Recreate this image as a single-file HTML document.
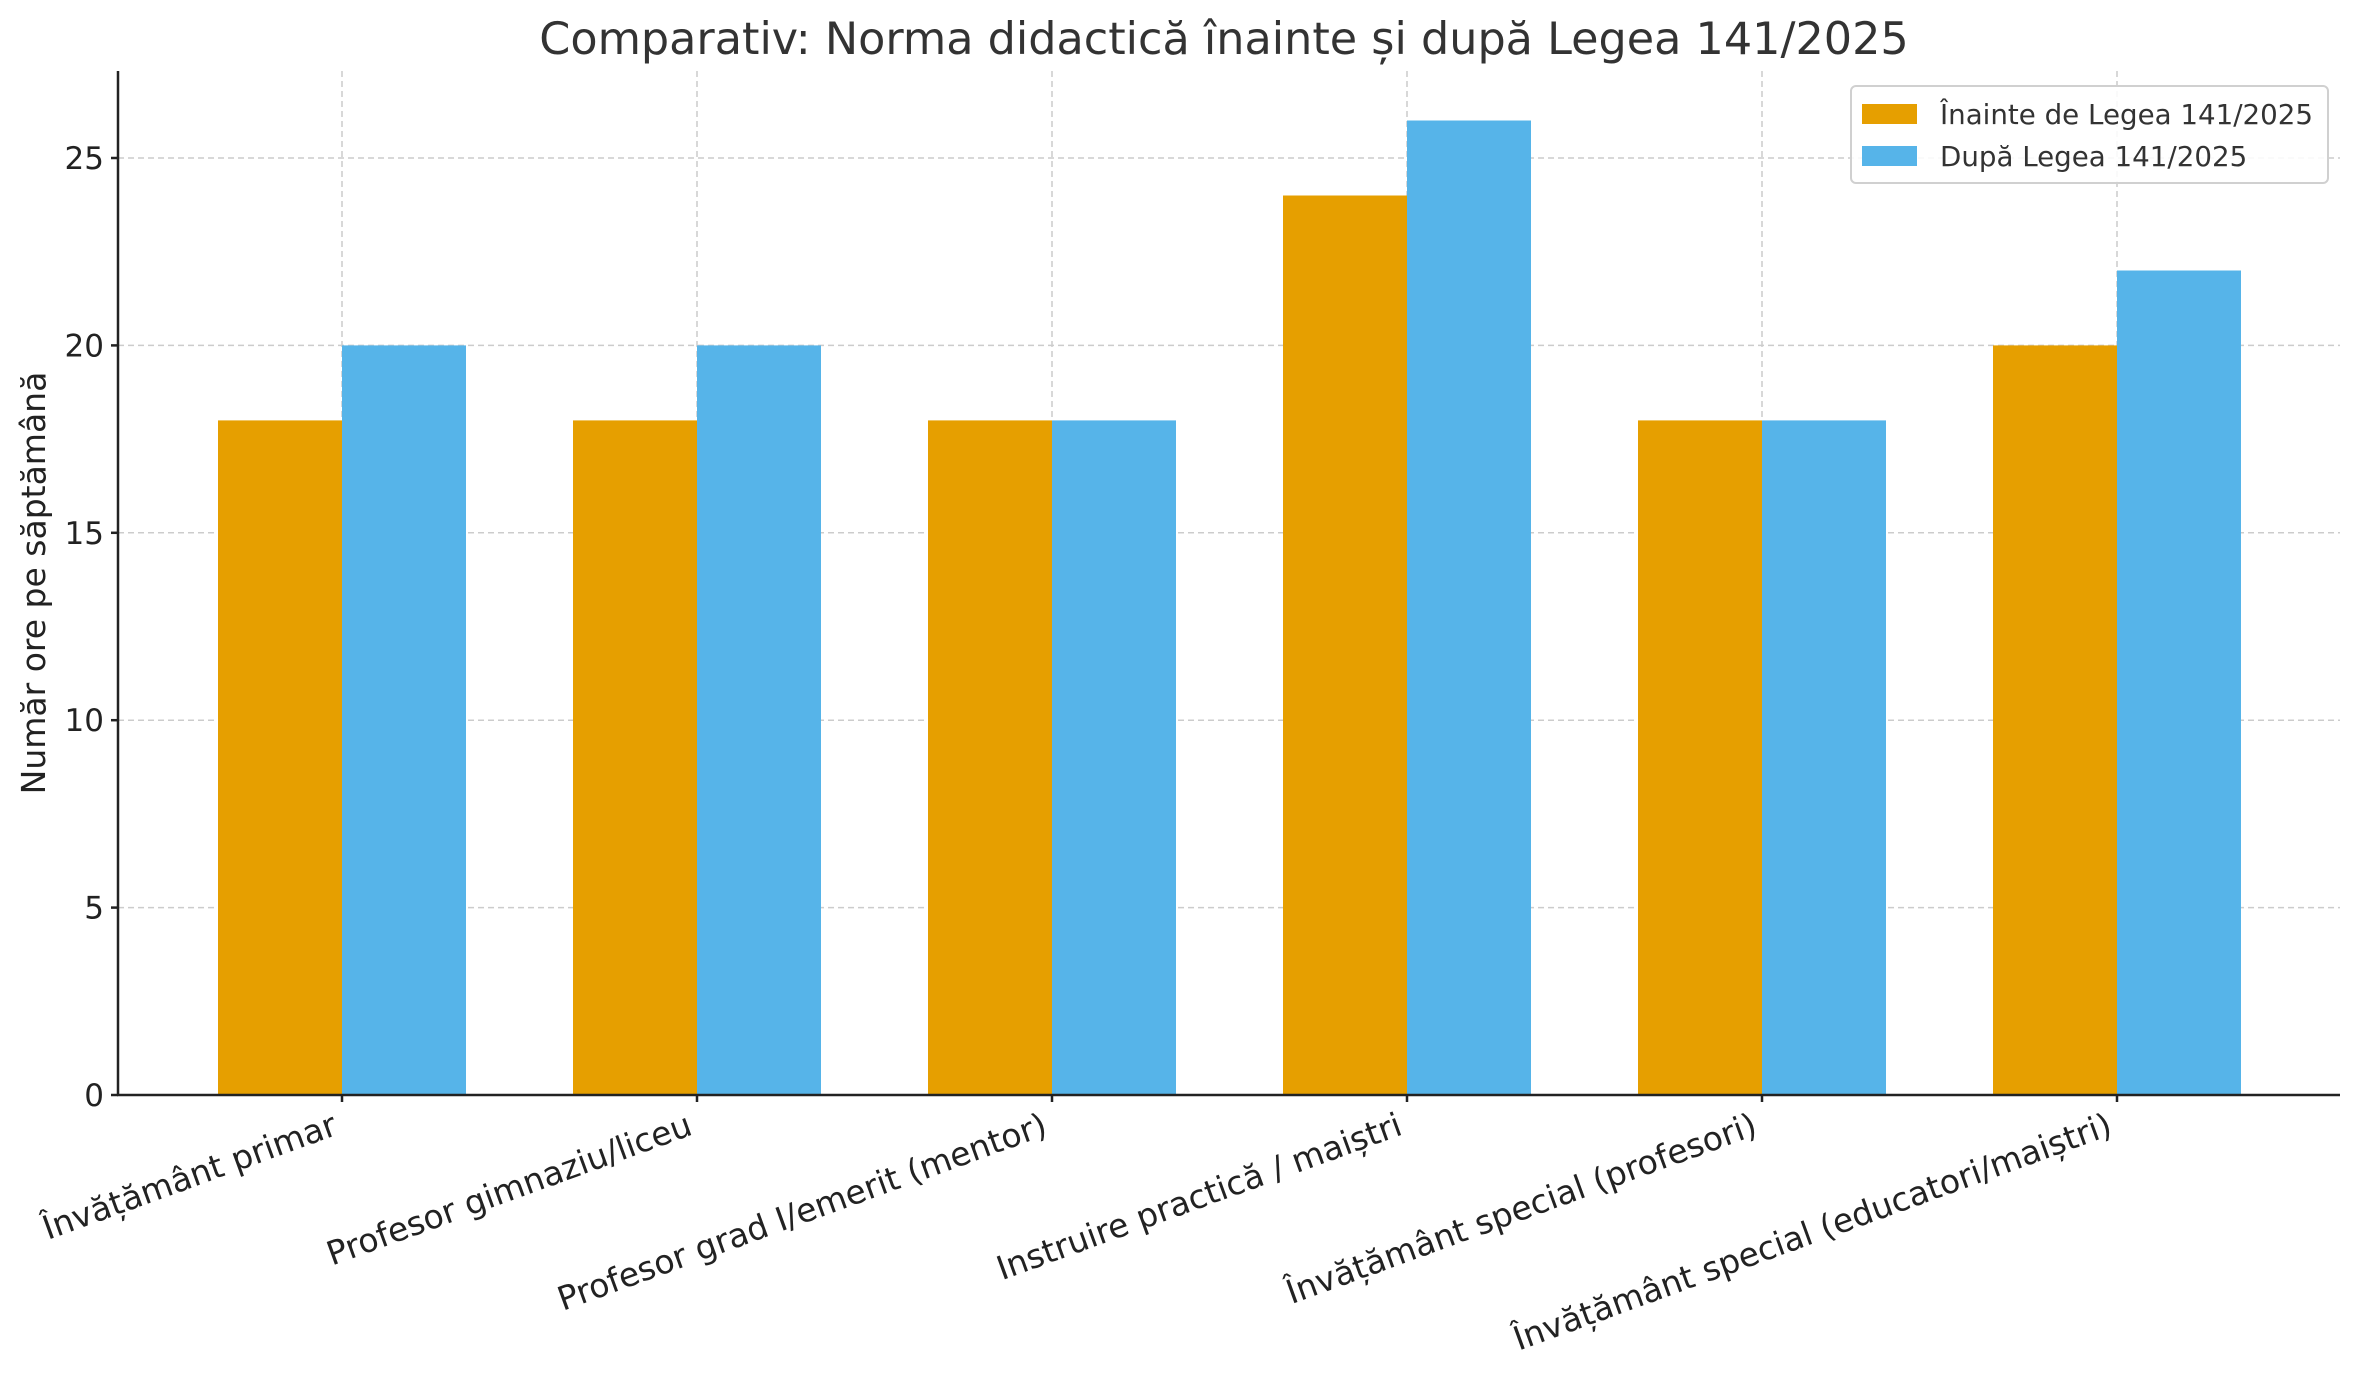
<!DOCTYPE html>
<html><head><meta charset="utf-8"><style>
html,body{margin:0;padding:0;background:#fff;}
svg{display:block;font-family:"DejaVu Sans","Liberation Sans",sans-serif;}
</style></head><body>
<svg width="2358" height="1380" viewBox="0 0 2358 1380" xmlns="http://www.w3.org/2000/svg">
<rect width="2358" height="1380" fill="#fff"/>
<g stroke="#cccccc" stroke-width="1.5" stroke-dasharray="6,4">
<line x1="118" x2="2340" y1="907.6" y2="907.6"/>
<line x1="118" x2="2340" y1="720.2" y2="720.2"/>
<line x1="118" x2="2340" y1="532.8" y2="532.8"/>
<line x1="118" x2="2340" y1="345.4" y2="345.4"/>
<line x1="118" x2="2340" y1="158" y2="158"/>
<line x1="342" x2="342" y1="71" y2="1095"/>
<line x1="697" x2="697" y1="71" y2="1095"/>
<line x1="1052" x2="1052" y1="71" y2="1095"/>
<line x1="1407" x2="1407" y1="71" y2="1095"/>
<line x1="1762" x2="1762" y1="71" y2="1095"/>
<line x1="2117" x2="2117" y1="71" y2="1095"/>
</g>
<g fill="#E69F00">
<rect x="218" y="420.4" width="124" height="674.6"/>
<rect x="573" y="420.4" width="124" height="674.6"/>
<rect x="928" y="420.4" width="124" height="674.6"/>
<rect x="1283" y="195.5" width="124" height="899.5"/>
<rect x="1638" y="420.4" width="124" height="674.6"/>
<rect x="1993" y="345.4" width="124" height="749.6"/>
</g>
<g fill="#56B4E9">
<rect x="342" y="345.4" width="124" height="749.6"/>
<rect x="697" y="345.4" width="124" height="749.6"/>
<rect x="1052" y="420.4" width="124" height="674.6"/>
<rect x="1407" y="120.5" width="124" height="974.5"/>
<rect x="1762" y="420.4" width="124" height="674.6"/>
<rect x="2117" y="270.5" width="124" height="824.5"/>
</g>
<g stroke="#222" stroke-width="2.5">
<line x1="118" y1="71" x2="118" y2="1096"/>
<line x1="117" y1="1095" x2="2340" y2="1095"/>
<line x1="111" x2="118" y1="1095" y2="1095"/>
<line x1="111" x2="118" y1="907.6" y2="907.6"/>
<line x1="111" x2="118" y1="720.2" y2="720.2"/>
<line x1="111" x2="118" y1="532.8" y2="532.8"/>
<line x1="111" x2="118" y1="345.4" y2="345.4"/>
<line x1="111" x2="118" y1="158" y2="158"/>
<line x1="342" x2="342" y1="1095" y2="1102"/>
<line x1="697" x2="697" y1="1095" y2="1102"/>
<line x1="1052" x2="1052" y1="1095" y2="1102"/>
<line x1="1407" x2="1407" y1="1095" y2="1102"/>
<line x1="1762" x2="1762" y1="1095" y2="1102"/>
<line x1="2117" x2="2117" y1="1095" y2="1102"/>
</g>
<g fill="#222" font-size="31" text-anchor="end">
<text x="104" y="1106">0</text>
<text x="104" y="918.6">5</text>
<text x="104" y="731.2">10</text>
<text x="104" y="543.8">15</text>
<text x="104" y="356.4">20</text>
<text x="104" y="169">25</text>
</g>
<g fill="#222" font-size="33" text-anchor="end">
<text transform="translate(339,1134) rotate(-20)">Învățământ primar</text>
<text transform="translate(694,1134) rotate(-20)">Profesor gimnaziu/liceu</text>
<text transform="translate(1049,1134) rotate(-20)">Profesor grad I/emerit (mentor)</text>
<text transform="translate(1404,1134) rotate(-20)">Instruire practică / maiștri</text>
<text transform="translate(1759,1134) rotate(-20)">Învățământ special (profesori)</text>
<text transform="translate(2114,1134) rotate(-20)">Învățământ special (educatori/maiștri)</text>
</g>
<text transform="translate(45,583) rotate(-90)" text-anchor="middle" font-size="33" fill="#222">Număr ore pe săptămână</text>
<text x="1224" y="54" text-anchor="middle" font-size="44.5" fill="#333">Comparativ: Norma didactică înainte și după Legea 141/2025</text>
<rect x="1851" y="86" width="477" height="97" rx="5" fill="#fff" fill-opacity="0.85" stroke="#d0d0d0" stroke-width="2"/>
<rect x="1862" y="104" width="55" height="20" fill="#E69F00"/>
<rect x="1862" y="146" width="55" height="20" fill="#56B4E9"/>
<text x="1940" y="124" font-size="27.7" fill="#333">Înainte de Legea 141/2025</text>
<text x="1940" y="166" font-size="27.7" fill="#333">După Legea 141/2025</text>
</svg>
</body></html>
